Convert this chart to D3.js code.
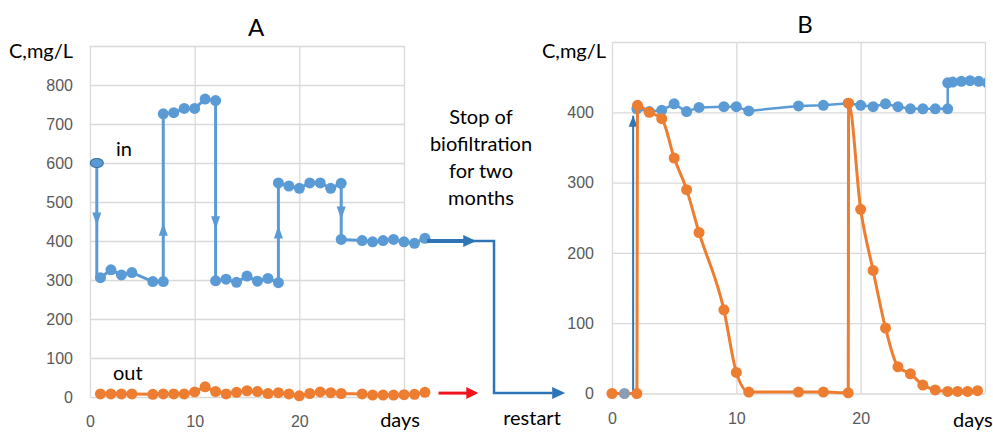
<!DOCTYPE html>
<html>
<head>
<meta charset="utf-8">
<script src="https://cdn.jsdelivr.net/npm/d3@7"></script>
<style>
  body { margin: 0; background: #fff; }
  svg { display: block; font-family: Lato, "Open Sans", sans-serif; }
  .grid line { stroke: #d9d9d9; stroke-width: 1.3px; }
  .grid .domain { display: none; }
  .grid text { fill: #595959; font-size: 16px; }
  .lbl { fill: #000; font-size: 20px; }
</style>
</head>
<body>
<div id="chart"></div>
<script>
// ---- data (days, C mg/L) ----
var inA = [[1,306],[2,326],[3,313],[4,319],[6,296],[7,296],[7,726],[8,729],[9,740],[10,740],
  [11,764],[12,760],[12,298],[13,302],[14,294],[15,310],[16,297],[17,304],[18,293],[18,549],
  [19,541],[20,535],[21,549],[22,549],[23,535],[24,548],[24,404],[26,401],[27,398],[28,401],
  [29,404],[30,398],[31,394],[32,407]];
var startA = [0.65, 600];
var outA = [[1,8],[2,8],[3,8],[4,8],[6,7],[7,8],[8,8],[9,8],[10,13],[11,26],[12,14],[13,8],
  [14,12],[15,16],[16,14],[17,9],[18,11],[19,8],[20,3],[21,9],[22,13],[23,11],[24,9],
  [26,8],[27,5],[28,5],[29,5],[30,6],[31,7],[32,12]];
// arrow heads on the jumps of the "in" line: [day, value at tip, direction]
var jumpsA = [[0.65,440,"down"],[7,447,"up"],[12,430,"down"],[18,440,"up"],[24,455,"down"]];
// stop / restart path (panel A units)
var stopPath = [[32.2,400],[38.6,400],[38.6,10],[45.4,10]];
var redArrow = [[33.3,10],[37.1,10]];

var preB = [[1,0]];
var inB = [[2,405],[3,401],[4,403],[5,412],[6,401],[7,407],[9,408],[10,408],[11,402],[15,409],
  [17,410],[19,413],[20,410],[21,408],[22,412],[23,408],[24,405],[25,405],[26,405],[27,405],
  [27,442],[27.4,443],[28.1,444],[28.8,445],[29.5,444],[30.2,442]];
var outB = [[0,0],[2,0],[2.05,410],[3,400],[4,391],[5,335],[6,290],[7,229],[9,119],[10,30],
  [11,2],[15,2],[17,2],[19,1],[19.03,413],[20,262],[21,175],[22,93],[23,38],[24,28],[25,12],
  [26,5],[27,3],[27.8,3],[28.6,3],[29.4,4]];
var restartArrowB = [[1.7,0],[1.7,395]];

var xTicks = [0, 10, 20];
var xGrid = [0, 10, 20, 30];
var yTicksA = [0, 100, 200, 300, 400, 500, 600, 700, 800];
var yGridA = [0, 100, 200, 300, 400, 500, 600, 700, 800, 900];
var yTicksB = [0, 100, 200, 300, 400];
var yGridB = [0, 100, 200, 300, 400, 500];

var blue = "#5b9bd5", orange = "#ed7d31", dark = "#2e75b6", red = "#f0141e";

var svg = d3.select("#chart").append("svg").attr("width", 993).attr("height", 432);

function grid(g, x, y, yGrid, yTicks, top, bottom, left, right, pad) {
  g.append("g").attr("class", "grid")
    .attr("transform", `translate(${left},0)`)
    .call(d3.axisLeft(y).tickValues(yGrid).tickSize(-(right - left)).tickPadding(pad)
      .tickFormat(function (d) { return yTicks.indexOf(d) >= 0 ? d : ""; }));
  g.append("g").attr("class", "grid")
    .attr("transform", `translate(0,${bottom})`)
    .call(d3.axisBottom(x).tickValues(xGrid).tickSize(-(bottom - top)).tickPadding(19)
      .tickFormat(function (d) { return xTicks.indexOf(d) >= 0 ? d : ""; }));
}

function markers(g, data, x, y, color, r) {
  g.selectAll(null).data(data).enter().append("circle")
    .attr("cx", function (d) { return x(d[0]); })
    .attr("cy", function (d) { return y(d[1]); })
    .attr("r", r).attr("fill", color);
}

function head(g, px, py, dir, color, w, h) {
  var d;
  if (dir == "down") d = `M${px - w / 2},${py - h}L${px + w / 2},${py - h}L${px},${py}Z`;
  else if (dir == "up") d = `M${px - w / 2},${py + h}L${px + w / 2},${py + h}L${px},${py}Z`;
  else d = `M${px - h},${py - w / 2}L${px - h},${py + w / 2}L${px},${py}Z`;
  g.append("path").attr("d", d).attr("fill", color);
}

// ---------- panel A ----------
var xA = d3.scaleLinear().domain([0, 30]).range([90, 404]);
var yA = d3.scaleLinear().domain([0, 900]).range([397, 46]);
var gA = svg.append("g");
grid(gA, xA, yA, yGridA, yTicksA, 46, 397, 90, 404, 17);

var line = d3.line().x(function (d) { return xA(d[0]); }).y(function (d) { return yA(d[1]); });

gA.append("path").datum([startA, [startA[0], inA[0][1]], inA[0]].concat(inA.slice(1)))
  .attr("d", line).attr("fill", "none").attr("stroke", blue).attr("stroke-width", 3);
markers(gA, inA, xA, yA, blue, 5.5);
gA.append("ellipse").attr("cx", xA(startA[0])).attr("cy", yA(startA[1]))
  .attr("rx", 6.5).attr("ry", 4.5).attr("fill", blue).attr("stroke", "#41719c").attr("stroke-width", 1.2);
jumpsA.forEach(function (j) {
  head(gA, xA(j[0]), yA(j[1]), j[2], blue, 9, 13);
});

gA.append("path").datum(outA).attr("d", line).attr("fill", "none")
  .attr("stroke", orange).attr("stroke-width", 3);
markers(gA, outA, xA, yA, orange, 5.5);

// stop of biofiltration / restart arrows
gA.append("path").datum([stopPath[0], [36.2, 400]]).attr("d", line)
  .attr("stroke", dark).attr("stroke-width", 4).attr("fill", "none");
head(gA, xA(36.9), yA(400), "right", dark, 12, 13);
gA.append("path").datum([[36.5, 400]].concat(stopPath.slice(1, 3), [[44.2, 10]]))
  .attr("d", line).attr("stroke", dark).attr("stroke-width", 2.5).attr("fill", "none");
head(gA, xA(stopPath[3][0]), yA(stopPath[3][1]), "right", dark, 12, 13);
gA.append("path").datum([redArrow[0], [36.2, 10]]).attr("d", line)
  .attr("stroke", red).attr("stroke-width", 3).attr("fill", "none");
head(gA, xA(redArrow[1][0]), yA(redArrow[1][1]), "right", red, 12, 12);

gA.append("text").attr("class", "lbl").attr("x", 256).attr("y", 36).attr("text-anchor", "middle")
  .style("font-size", "24px").text("A");
gA.append("text").attr("class", "lbl").attr("x", 9).attr("y", 58).text("C,mg/L");
gA.append("text").attr("class", "lbl").attr("x", 116).attr("y", 156).text("in");
gA.append("text").attr("class", "lbl").attr("x", 113).attr("y", 380).text("out");
gA.append("text").attr("class", "lbl").attr("x", 400).attr("y", 427).attr("text-anchor", "middle").text("days");
gA.append("text").attr("class", "lbl").attr("x", 532).attr("y", 425).attr("text-anchor", "middle").text("restart");
var stopLines = ["Stop of", "biofiltration", "for two", "months"];
gA.append("text").attr("class", "lbl").attr("text-anchor", "middle")
  .selectAll("tspan").data(stopLines).enter().append("tspan")
  .attr("x", 481).attr("y", function (d, i) { return 124 + i * 27; }).text(function (d) { return d; });

// ---------- panel B ----------
var xB = d3.scaleLinear().domain([0, 30]).range([612, 985]);
var yB = d3.scaleLinear().domain([0, 500]).range([393.5, 42]);
var gB = svg.append("g");
grid(gB, xB, yB, yGridB, yTicksB, 42, 393.5, 612, 985, 18);
svg.append("clipPath").attr("id", "clipB").append("rect")
  .attr("x", 600).attr("y", 30).attr("width", 385).attr("height", 380);
var gBd = gB.append("g").attr("clip-path", "url(#clipB)");

var lineB = d3.line().x(function (d) { return xB(d[0]); }).y(function (d) { return yB(d[1]); });
var smoothB = d3.line().curve(d3.curveMonotoneX)
  .x(function (d) { return xB(d[0]); }).y(function (d) { return yB(d[1]); });

gBd.append("path").datum(inB).attr("d", lineB).attr("fill", "none")
  .attr("stroke", blue).attr("stroke-width", 2.5);
markers(gBd, inB, xB, yB, blue, 5.5);
gBd.append("path").datum(restartArrowB).attr("d", lineB).attr("fill", "none")
  .attr("stroke", dark).attr("stroke-width", 2);
head(gBd, xB(restartArrowB[1][0]), yB(restartArrowB[1][1]), "up", dark, 9, 11);

gBd.append("path").datum(outB).attr("d", smoothB).attr("fill", "none")
  .attr("stroke", orange).attr("stroke-width", 3);
markers(gBd, outB, xB, yB, orange, 5.5);
markers(gBd, preB, xB, yB, "#8e9cb2", 5.5);

gB.append("text").attr("class", "lbl").attr("x", 805).attr("y", 33).attr("text-anchor", "middle")
  .style("font-size", "24px").text("B");
gB.append("text").attr("class", "lbl").attr("x", 542).attr("y", 58).text("C,mg/L");
gB.append("text").attr("class", "lbl").attr("x", 953).attr("y", 427).text("days");
</script>
</body>
</html>
